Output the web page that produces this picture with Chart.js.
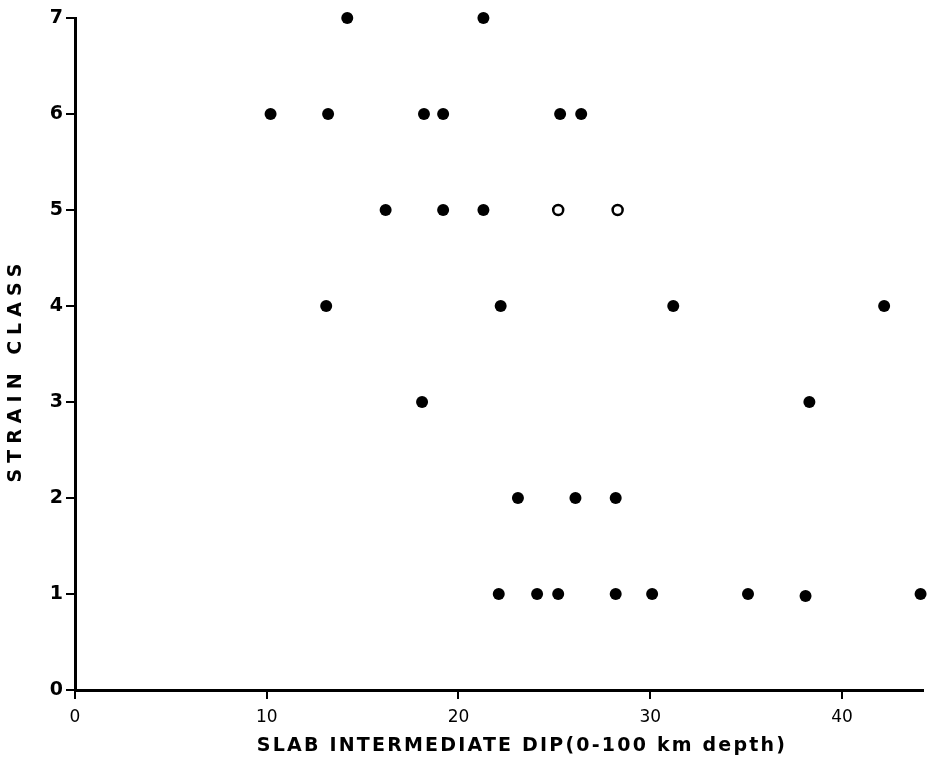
<!DOCTYPE html>
<html>
<head>
<meta charset="utf-8">
<script src="https://cdn.jsdelivr.net/npm/chart.js@4.4.0/dist/chart.umd.min.js"></script>
<style>
  html, body { margin: 0; padding: 0; background: #fff; }
  #chart { display: block; }
</style>
</head>
<body>
<canvas id="chart" width="930" height="764"></canvas>
<script>
// Strain class vs. slab dip
const filledDip = [14.2, 21.3,
  10.2, 13.2, 18.2, 19.2, 25.3, 26.4,
  16.2, 19.2, 21.3,
  13.1, 22.2, 31.2, 42.2,
  18.1, 38.3,
  23.1, 26.1, 28.2,
  22.1, 24.1, 25.2, 28.2, 30.1, 35.1, 38.1, 44.1];
const filledClass = [7, 7,
  6, 6, 6, 6, 6, 6,
  5, 5, 5,
  4, 4, 4, 4,
  3, 3,
  2, 2, 2,
  1, 1, 1, 1, 1, 1, 0.98, 1];
const openDip = [25.2, 28.3];
const openClass = [5, 5];

const xTicks = [0, 10, 20, 30, 40];
const yTicks = [0, 1, 2, 3, 4, 5, 6, 7];

const xTitle = 'SLAB INTERMEDIATE DIP(0-100 km depth)';
const yTitle = 'STRAIN CLASS';

function toPoints(xs, ys) {
  let pts = [];
  for (let i = 0; i < xs.length; i++) {
    pts.push({x: xs[i], y: ys[i]});
  }
  return pts;
}

const fontFamily = '"DejaVu Sans", sans-serif';

// draw the axis titles ourselves so they can be letter-spaced like the original
const titlePlugin = {
  id: 'spacedTitles',
  afterDraw(chart) {
    const ctx = chart.ctx;
    ctx.save();
    ctx.fillStyle = '#000';
    ctx.textAlign = 'center';
    ctx.textBaseline = 'middle';
    ctx.font = '600 19px ' + fontFamily;
    ctx.letterSpacing = '2.2px';
    ctx.fillText(xTitle, 522, 746);
    ctx.translate(16, 370);
    ctx.rotate(-Math.PI / 2);
    ctx.font = '600 19px ' + fontFamily;
    ctx.letterSpacing = '6px';
    ctx.fillText(yTitle, 0, 0);
    ctx.restore();
  }
};

const ctx = document.getElementById('chart');

new Chart(ctx, {
  type: 'scatter',
  data: {
    datasets: [{
      label: 'filled',
      data: toPoints(filledDip, filledClass),
      clip: false,
      pointStyle: 'circle',
      pointRadius: 6,
      pointBackgroundColor: '#000',
      pointBorderColor: '#000',
      pointBorderWidth: 0
    }, {
      label: 'open',
      data: toPoints(openDip, openClass),
      clip: false,
      pointStyle: 'circle',
      pointRadius: 5,
      pointBackgroundColor: '#fff',
      pointBorderColor: '#000',
      pointBorderWidth: 2.5
    }]
  },
  options: {
    responsive: false,
    animation: false,
    devicePixelRatio: 1,
    layout: { padding: { top: 18, right: 0, left: 0, bottom: 0 } },
    plugins: {
      legend: { display: false },
      tooltip: { enabled: false }
    },
    scales: {
      x: {
        type: 'linear',
        min: 0,
        max: 44.2,
        afterBuildTicks: function(scale) {
          scale.ticks = xTicks.map(v => ({value: v}));
        },
        afterFit: function(scale) { scale.height = 74; },
        ticks: {
          color: '#000',
          padding: 8,
          maxRotation: 0,
          font: { family: fontFamily, size: 17 }
        },
        grid: {
          drawOnChartArea: false,
          drawTicks: true,
          tickLength: 9,
          color: '#000',
          lineWidth: 2
        },
        border: { display: true, color: '#000', width: 3 }
      },
      y: {
        type: 'linear',
        min: 0,
        max: 7,
        afterBuildTicks: function(scale) {
          scale.ticks = yTicks.map(v => ({value: v}));
        },
        afterFit: function(scale) { scale.width = 75; },
        ticks: {
          color: '#000',
          padding: 3,
          font: { family: fontFamily, size: 19, weight: 'bold' }
        },
        grid: {
          drawOnChartArea: false,
          drawTicks: true,
          tickLength: 9,
          color: '#000',
          lineWidth: 2
        },
        border: { display: true, color: '#000', width: 3 }
      }
    }
  },
  plugins: [titlePlugin]
});
</script>
</body>
</html>
